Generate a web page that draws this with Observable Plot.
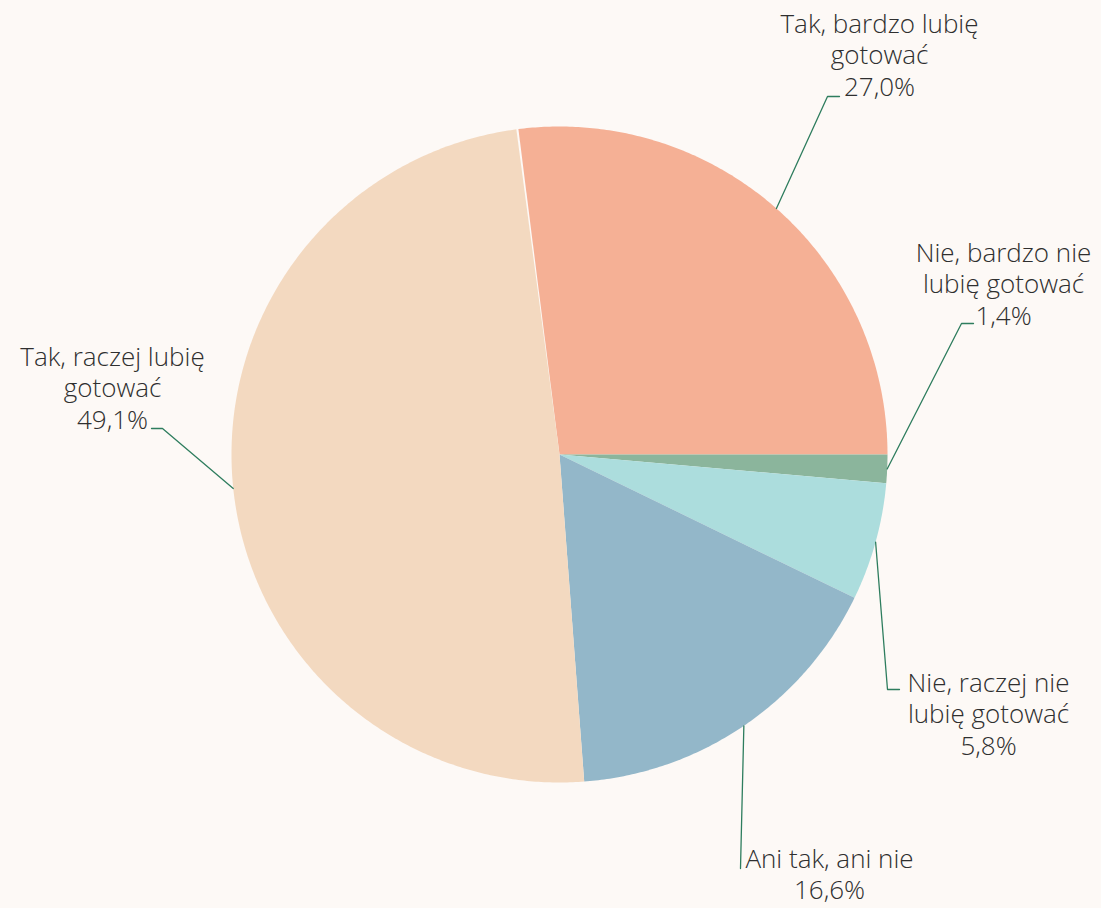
<!DOCTYPE html>
<html><head><meta charset="utf-8">
<script src="https://cdn.jsdelivr.net/npm/d3@7"></script>
<script src="https://cdn.jsdelivr.net/npm/@observablehq/plot@0.6"></script>
<style>
html,body{margin:0;padding:0;background:#FDF9F6;}
#chart svg{display:block;}
</style></head><body><div id="chart"></div>
<script>
// ---- data ----
const categories = ["Tak, bardzo lubię gotować","Nie, bardzo nie lubię gotować","Nie, raczej nie lubię gotować","Ani tak, ani nie","Tak, raczej lubię gotować"];
const values = [27.0, 1.4, 5.8, 16.6, 49.1];
const labelLines = [["Tak, bardzo lubię","gotować"],["Nie, bardzo nie","lubię gotować"],["Nie, raczej nie","lubię gotować"],["Ani tak, ani nie"],["Tak, raczej lubię","gotować"]];
const colors = ["#F5B095","#8BB59C","#ACDDDD","#93B7C9","#F3D9C0"];

// ---- layout (pixels) ----
const W = 1101, H = 908, cx = 559, cy = 454, R = 328, startDeg = -7.2;
const fontSize = 26, lineH = 31.8, baseAdj = -3;
// label centre x, first-line baseline y, leader elbow and end
const labelLayout = [
  {x: 879, base: 31, elbow: [827, 96], end: [839, 96]},
  {x: 1003, base: 260, elbow: [961, 323], end: [973, 323]},
  {x: 988, base: 690, elbow: [887, 689], end: [899, 689]},
  {x: 829, base: 866, elbow: [740, 868], end: [740, 868]},
  {x: 112, base: 364, elbow: [162, 428], end: [151, 428]}
];

const total = 100;
const deg = Math.PI / 180;
let acc = startDeg * deg;
const slices = values.map((v, i) => {
  const a0 = acc, a1 = acc + v / total * 2 * Math.PI;
  acc = a1;
  return {i, cat: categories[i], v, a0, a1, mid: (a0 + a1) / 2};
});

const piePts = [];
for (const s of slices) {
  piePts.push({cat: s.cat, x: 0, y: 0});
  const n = Math.max(4, Math.ceil((s.a1 - s.a0) / deg * 2));
  for (let k = 0; k <= n; k++) {
    const t = s.a0 + (s.a1 - s.a0) * k / n;
    piePts.push({cat: s.cat, x: R * Math.sin(t), y: -R * Math.cos(t)});
  }
  piePts.push({cat: s.cat, x: 0, y: 0});
}

const leaderPts = [];
slices.forEach((s, i) => {
  const L = labelLayout[i];
  leaderPts.push({z: i, x: R * Math.sin(s.mid), y: -R * Math.cos(s.mid)});
  leaderPts.push({z: i, x: L.elbow[0] - cx, y: L.elbow[1] - cy});
  leaderPts.push({z: i, x: L.end[0] - cx, y: L.end[1] - cy});
});

const labels = slices.map((s, i) => ({
  x: labelLayout[i].x - cx,
  y: labelLayout[i].base + baseAdj - 0.71 * fontSize - cy,
  text: [...labelLines[i], s.v.toFixed(1).replace(".", ",") + "%"].join("\n")
}));

const chart = Plot.plot({
  width: W, height: H,
  margin: 0,
  style: {background: "#FDF9F6", fontFamily: "'Open Sans', Lato, sans-serif"},
  x: {domain: [-cx, W - cx], range: [0, W], axis: null},
  y: {domain: [-cy, H - cy], range: [0, H], axis: null},
  color: {domain: categories, range: colors},
  marks: [
    Plot.line(piePts, {x: "x", y: "y", z: "cat", fill: "cat", stroke: "none", curve: "linear"}),
    Plot.line(leaderPts, {x: "x", y: "y", z: "z", stroke: "#2E7D5E", strokeWidth: 1.3}),
    Plot.text(labels, {x: "x", y: "y", text: "text", fontSize, fontWeight: 300, lineHeight: lineH / fontSize, lineAnchor: "top", textAnchor: "middle", fill: "#2F2F2F"})
  ]
});
document.getElementById("chart").appendChild(chart);
</script></body></html>
